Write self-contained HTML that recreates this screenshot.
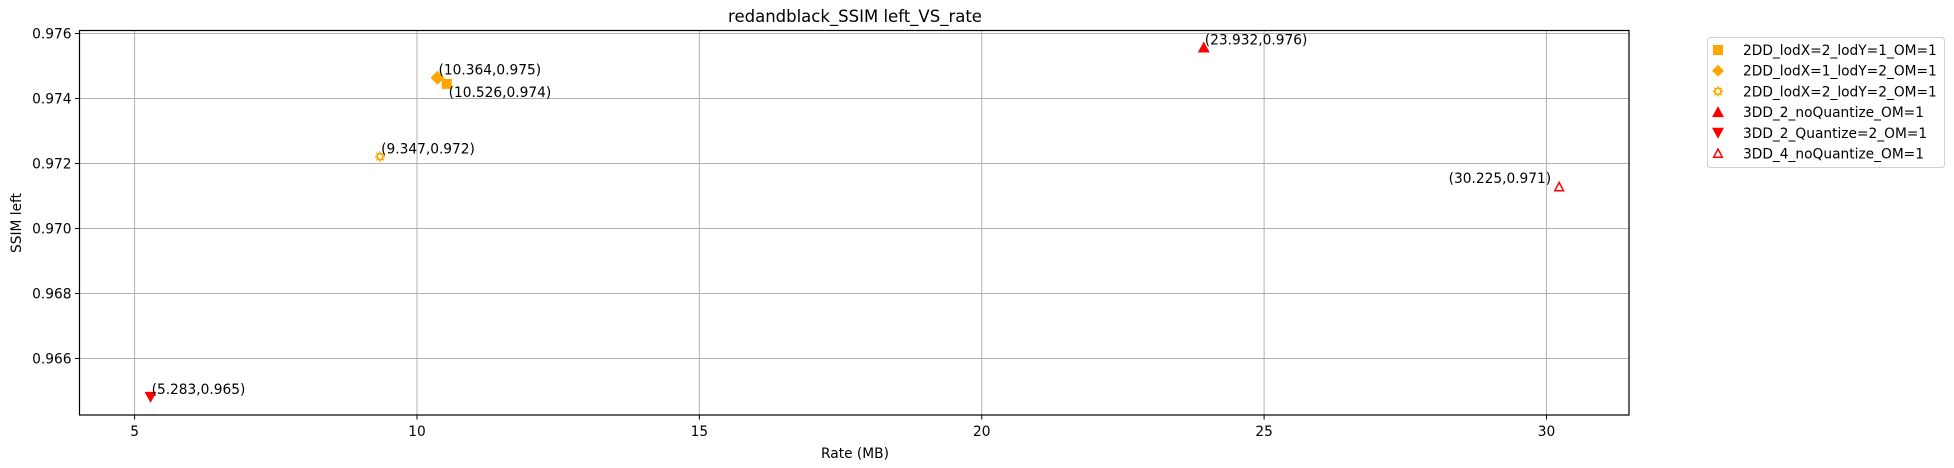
<!DOCTYPE html>
<html><head><meta charset="utf-8"><style>
html,body{margin:0;padding:0;background:#fff;}
svg{display:block;font-family:"DejaVu Sans","Liberation Sans",sans-serif;}
</style></head><body>
<svg id="chart" width="1954" height="468" xmlns="http://www.w3.org/2000/svg">
<text x="855" y="22" font-size="16.5" text-anchor="middle">redandblack_SSIM left_VS_rate</text>
<g id="grid"></g><g id="axes"></g><g id="marks"></g>
<text x="855" y="458" font-size="13.75" text-anchor="middle">Rate (MB)</text>
<text x="21" y="223" font-size="13.75" text-anchor="middle" transform="rotate(-90 21 223)">SSIM left</text>
<g id="legend"></g>
</svg>
<script>
const seriesNames=["2DD_lodX=2_lodY=1_OM=1","2DD_lodX=1_lodY=2_OM=1","2DD_lodX=2_lodY=2_OM=1","3DD_2_noQuantize_OM=1","3DD_2_Quantize=2_OM=1","3DD_4_noQuantize_OM=1"];
const rates=[10.526,10.364,9.347,23.932,5.283,30.225];
const ssims=[0.97445,0.97464,0.97221,0.97557,0.96482,0.97128];
const pointLabels=["(10.526,0.974)","(10.364,0.975)","(9.347,0.972)","(23.932,0.976)","(5.283,0.965)","(30.225,0.971)"];
const xTicks=[5,10,15,20,25,30];
const yTicks=[0.966,0.968,0.970,0.972,0.974,0.976];

const L=79.5,R=1629,T=30.5,B=415;
const X=v=>134.6+(v-5)*56.475;
const Y=v=>33.5+(0.976-v)*32500;
const NS="http://www.w3.org/2000/svg";
function mk(tag,attrs,parent,text){const e=document.createElementNS(NS,tag);for(const k in attrs)e.setAttribute(k,attrs[k]);if(text!==undefined)e.textContent=text;parent.appendChild(e);return e;}
const grid=document.getElementById('grid'),axes=document.getElementById('axes'),marks=document.getElementById('marks'),legend=document.getElementById('legend');
xTicks.forEach(t=>{const x=X(t);
 const g=mk('line',{x1:x,x2:x,y1:T,y2:B,stroke:'#b0b0b0','stroke-width':1},grid);
 
 
 mk('line',{x1:x,x2:x,y1:B,y2:B+4.5,stroke:'#000'},axes);
 const tl=mk('text',{x:x,y:B+21,'font-size':13.75,'text-anchor':'middle'},axes,String(t));
 
 
});
yTicks.forEach(t=>{const y=Y(t);
 const g=mk('line',{x1:L,x2:R,y1:y,y2:y,stroke:'#b0b0b0','stroke-width':1},grid);
 
 
 mk('line',{x1:L-4.5,x2:L,y1:y,y2:y,stroke:'#000'},axes);
 const tl=mk('text',{x:L-8,y:y+5,'font-size':13.75,'text-anchor':'end'},axes,t.toFixed(3));
 
 
});
const frame=mk('rect',{x:L,y:T,width:R-L,height:B-T,fill:'none',stroke:'#000','stroke-width':1.2},axes);



function marker(i,x,y,parent){
 const o='#ffa500',r='#ff0000';
 if(i===0) return mk('rect',{x:x-5,y:y-5,width:10,height:10,fill:o},parent);
 if(i===1) return mk('polygon',{points:`${x},${y-7} ${x+7},${y} ${x},${y+7} ${x-7},${y}`,fill:o},parent);
 if(i===2){const g=mk('g',{},parent);mk('circle',{cx:x,cy:y,r:3,fill:'none',stroke:o,'stroke-width':1.8},g);
   for(let k=0;k<8;k++){const a=k*Math.PI/4;mk('line',{x1:x+3.3*Math.cos(a),y1:y+3.3*Math.sin(a),x2:x+5.2*Math.cos(a),y2:y+5.2*Math.sin(a),stroke:o,'stroke-width':1.4},g);}return g;}
 if(i===3) return mk('polygon',{points:`${x},${y-6} ${x+6},${y+5} ${x-6},${y+5}`,fill:r},parent);
 if(i===4) return mk('polygon',{points:`${x},${y+6} ${x+6},${y-5} ${x-6},${y-5}`,fill:r},parent);
 return mk('polygon',{points:`${x},${y-4.5} ${x+4.3},${y+3.8} ${x-4.3},${y+3.8}`,fill:'#fff',stroke:r,'stroke-width':1.5},parent);
}
rates.forEach((v,i)=>{const x=X(v),y=Y(ssims[i]);
 const m=marker(i,x,y,marks);
 
 
 let tx=x+1,ty=y-3,anc='start';
 if(i===0){tx=x+2;ty=y+13;}
 if(i===5){tx=x-8;ty=y-4;anc='end';}
 const lb=mk('text',{x:tx,y:ty,'font-size':13.75,'text-anchor':anc},marks,pointLabels[i]);
 
 
});
const lbox=mk('rect',{x:1707.5,y:37.5,width:237,height:130,rx:3,fill:'#fff',stroke:'#d0d0d0'},legend);


seriesNames.forEach((n,i)=>{const y=50+i*20.7;
 const g=mk('g',{},legend);
 
 
 const mm=marker(i,1718,y,g);
 if(i===1){mm.setAttribute('transform',`translate(1718 ${y}) scale(0.85) translate(-1718 ${-y})`);}
 mk('text',{x:1743,y:y+5,'font-size':13.75},g,n);
});
</script>
</body></html>
